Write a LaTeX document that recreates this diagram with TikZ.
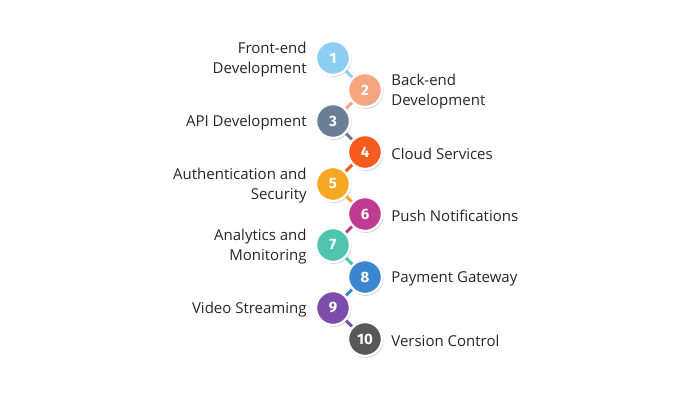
\documentclass[tikz,border=0pt]{standalone}
\usepackage{fontspec}
\setmainfont{Open Sans}
\newfontfamily\numfont{Fira Sans}
\usetikzlibrary{positioning,shadows}

\definecolor{cA}{HTML}{8CCDF2}
\definecolor{cB}{HTML}{F7A581}
\definecolor{cC}{HTML}{6A7E96}
\definecolor{cD}{HTML}{F55A1E}
\definecolor{cE}{HTML}{F5A623}
\definecolor{cF}{HTML}{C13A92}
\definecolor{cG}{HTML}{4FC4AE}
\definecolor{cH}{HTML}{3A86D0}
\definecolor{cI}{HTML}{7D4DAB}
\definecolor{cJ}{HTML}{585858}

\begin{document}
\begin{tikzpicture}[x=1pt,y=-1pt,
    num/.style={circle,draw=white,line width=2.4pt,minimum size=34pt,inner sep=0pt,
      font=\numfont\bfseries\fontsize{15}{15}\selectfont,text=white,
      drop shadow={opacity=0.35,shadow xshift=0.8pt,shadow yshift=-1.2pt,shadow scale=1.04}},
    lbl/.style={font=\fontsize{15}{20}\selectfont,text=black!85,inner sep=0pt,yshift=-2pt},
    link/.style={line width=3pt}]
  \useasboundingbox (0,0) rectangle (700,400);

  % circles
  \foreach \i/\x/\y/\col in {1/333/58/cA,2/365/90/cB,3/333/121/cC,4/365/152/cD,
      5/333/184/cE,6/365/214/cF,7/333/245/cG,8/365/277/cH,9/333/308/cI,10/365/339/cJ}
    \node[num,fill=\col] (c\i) at (\x,\y) {\i};

  % connectors
  \foreach \i/\j/\col in {1/2/cA,2/3/cB,3/4/cC,4/5/cD,5/6/cE,6/7/cF,7/8/cG,8/9/cH,9/10/cI}
    \draw[link,\col] (c\i) -- (c\j);

  % labels
  \node[lbl,align=right,left=8pt of c1] {Front-end\\Development};
  \node[lbl,align=left,right=8pt of c2] {Back-end\\Development};
  \node[lbl,left=8pt of c3] {API Development};
  \node[lbl,right=8pt of c4] {Cloud Services};
  \node[lbl,align=right,left=8pt of c5] {Authentication and\\Security};
  \node[lbl,right=8pt of c6] {Push Notifications};
  \node[lbl,align=right,left=8pt of c7] {Analytics and\\Monitoring};
  \node[lbl,right=8pt of c8] {Payment Gateway};
  \node[lbl,left=8pt of c9] {Video Streaming};
  \node[lbl,right=8pt of c10] {Version Control};
\end{tikzpicture}
\end{document}
